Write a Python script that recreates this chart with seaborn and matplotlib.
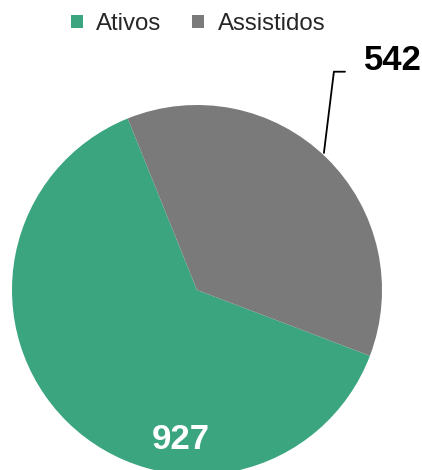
import matplotlib
matplotlib.use("Agg")
import matplotlib.pyplot as plt
from matplotlib.patches import Patch
import seaborn as sns

categories = ["Ativos", "Assistidos"]
values = [927, 542]
colors = ["#3AA57F", "#7A7A7A"]

sns.set_theme(style="white")
plt.rcParams["font.family"] = ["Liberation Sans", "DejaVu Sans"]

W, H = 422, 470
fig = plt.figure(figsize=(W / 100, H / 100), dpi=100)

# pie centre (197, 290) px, radius 185 px
cx, cy, r = 197, 290, 185
ax = fig.add_axes([(cx - r) / W, (H - cy - r) / H, 2 * r / W, 2 * r / H])
ax.pie(values, colors=colors, startangle=112, counterclock=True,
       radius=1, wedgeprops=dict(linewidth=0))
ax.set_xlim(-1, 1)
ax.set_ylim(-1, 1)
ax.set_aspect("auto")
ax.axis("off")

# value labels
ax.text(-0.09, -0.81, f"{values[0]}", color="white", fontsize=25,
        fontweight="bold", ha="center", va="center")
ax.text(1.06, 1.24, f"{values[1]}", color="black", fontsize=25,
        fontweight="bold", ha="center", va="center", clip_on=False)
ax.plot([0.686, 0.74, 0.80], [0.741, 1.18, 1.18], color="black",
        linewidth=1.3, clip_on=False)

handles = [Patch(facecolor=c, edgecolor="none", label=l)
           for c, l in zip(colors, categories)]
fig.legend(handles=handles, loc="center", bbox_to_anchor=(198 / W, 1 - 24 / H),
           ncol=2, frameon=False, fontsize=17.3, handlelength=0.5,
           handleheight=0.5, handletextpad=0.55, columnspacing=1.3,
           borderaxespad=0, borderpad=0)

fig.savefig("out.png", dpi=100)
